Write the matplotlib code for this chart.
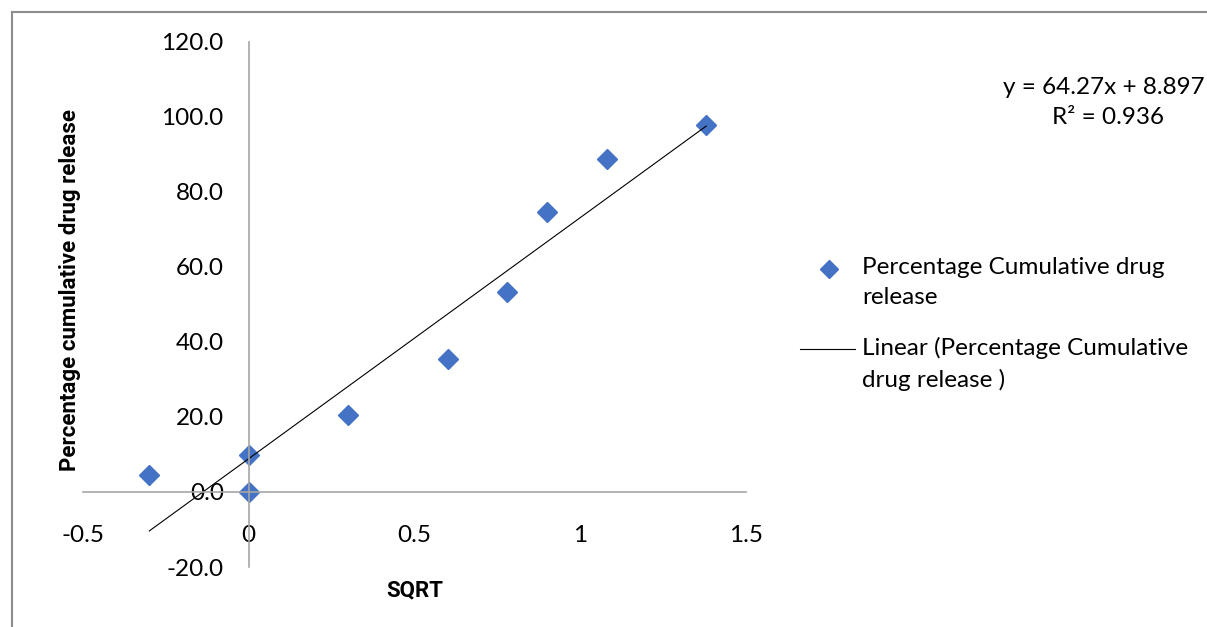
import matplotlib.pyplot as plt
from matplotlib.lines import Line2D

plt.rcParams['font.family'] = ['Lato', 'DejaVu Sans']

# data
x_vals = [-0.30, 0.0, 0.0, 0.30, 0.60, 0.78, 0.90, 1.08, 1.38]
y_vals = [4.5, 0.0, 9.9, 20.5, 35.4, 53.3, 74.7, 88.8, 97.9]
slope = 64.27
intercept = 8.897
r2 = 0.936

x_ticks = [-0.5, 0, 0.5, 1, 1.5]
x_tick_labels = ['-0.5', '0', '0.5', '1', '1.5']
y_ticks = [-20, 0, 20, 40, 60, 80, 100, 120]

blue = '#4472C4'
axis_gray = '#a6a6a6'
fs = 17.5
W, H = 1207, 627

fig = plt.figure(figsize=(12.07, 6.27), dpi=100)
ax = fig.add_axes([83 / W, 1 - 567 / H, (746 - 83) / W, (567 - 42) / H])

pts, = ax.plot(x_vals, y_vals, 'D', color=blue, markersize=10, linestyle='none')
x_line = [min(x_vals), max(x_vals)]
y_line = [slope * v + intercept for v in x_line]
trend, = ax.plot(x_line, y_line, color='black', linewidth=0.8)

ax.set_xlim(-0.5, 1.5)
ax.set_ylim(-20, 120)
ax.set_xticks(x_ticks)
ax.set_xticklabels(x_tick_labels)
ax.set_yticks(y_ticks)
ax.set_yticklabels([f'{v:.1f}' for v in y_ticks])

for side in ['top', 'right']:
    ax.spines[side].set_visible(False)
ax.spines['left'].set_position(('data', 0))
ax.spines['bottom'].set_position(('data', 0))
for side in ['left', 'bottom']:
    ax.spines[side].set_color(axis_gray)
    ax.spines[side].set_linewidth(1.2)

ax.tick_params(axis='y', length=0, pad=18, labelsize=fs)
ax.tick_params(axis='x', length=0, pad=24, labelsize=fs)

bold = dict(family='Roboto', fontweight='bold', fontsize=16)
ax.set_xlabel('SQRT', **bold)
ax.xaxis.label.set_verticalalignment('center')
ax.xaxis.set_label_coords((415 - 83) / 663, -(590 - 567) / 525)
ax.set_ylabel('Percentage cumulative drug release', **bold)
ax.yaxis.label.set_verticalalignment('center')
ax.yaxis.set_label_coords(-(83 - 70) / 663, (567 - 290) / 525)

# legend, drawn like the spreadsheet one (key beside first text line)
fig.add_artist(Line2D([829 / W], [1 - 269 / H], marker='D', color=blue,
                      markersize=9, linestyle='none'))
fig.text(862 / W, 1 - 268 / H, 'Percentage Cumulative drug', fontsize=fs, va='center')
fig.text(862 / W, 1 - 298 / H, 'release', fontsize=fs, va='center')
fig.add_artist(Line2D([800 / W, 855 / W], [1 - 349 / H, 1 - 349 / H],
                      color='black', linewidth=0.8))
fig.text(862 / W, 1 - 348 / H, 'Linear (Percentage Cumulative', fontsize=fs, va='center')
fig.text(862 / W, 1 - 380 / H, 'drug release )', fontsize=fs, va='center')

fig.text(1104 / W, 1 - 87 / H, f'y = {slope}x + {intercept}',
         ha='center', va='center', fontsize=fs)
fig.text(1108 / W, 1 - 118 / H, f'R\u00b2 = {r2}',
         ha='center', va='center', fontsize=fs)

# chart border (only left and top visible)
fig.add_artist(Line2D([12 / W, 12 / W], [0, 1 - 12 / H], color='#8c8c8c', linewidth=1.5))
fig.add_artist(Line2D([12 / W, 1], [1 - 12 / H, 1 - 12 / H], color='#8c8c8c', linewidth=1.5))

fig.savefig('out.png', dpi=100)
